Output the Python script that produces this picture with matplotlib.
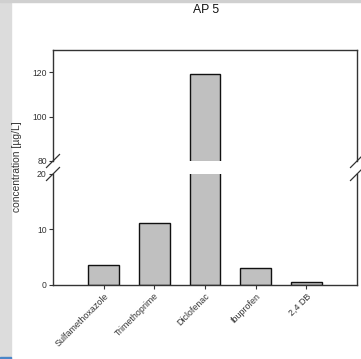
import numpy as np
import matplotlib
matplotlib.use("Agg")
import matplotlib.pyplot as plt
from matplotlib.patches import Rectangle

plt.rcParams['font.family'] = ['Liberation Sans', 'DejaVu Sans']

# data
compounds = ['Sulfamethoxazole', 'Trimethoprime', 'Diclofenac', 'Ibuprofen', '2,4 DB']
conc = [3.5, 11.1, 119.0, 3.1, 0.5]
upper_ticks = [80, 100, 120]
lower_ticks = [0, 10, 20]

W, H = 361, 359
fig = plt.figure(figsize=(W / 100, H / 100), dpi=100)

# window decorations around the picture
fig.patches.append(Rectangle((0, 0), 11 / W, 1, transform=fig.transFigure,
                             color='#dcdcdc', zorder=0))
fig.patches.append(Rectangle((0, 1 - 1.5 / H), 1, 1.5 / H, transform=fig.transFigure,
                             color='#d0d0d0', zorder=0))
fig.patches.append(Rectangle((0, 0), 11 / W, 2.5 / H, transform=fig.transFigure,
                             color='#4a86c8', zorder=1))

left, width = 53 / W, 304 / W
ax_top = fig.add_axes([left, 1 - 161 / H, width, 111 / H])
ax_bot = fig.add_axes([left, 1 - 284.7 / H, width, 110.7 / H])

x = np.arange(1, len(compounds) + 1)
spine_col = '#333333'
for ax in (ax_top, ax_bot):
    ax.bar(x, conc, width=0.6, color='#c0c0c0', edgecolor='#111111', linewidth=1.0)
    ax.set_xlim(0, 6)
    for s in ax.spines.values():
        s.set_color(spine_col)
        s.set_linewidth(1.0)
    ax.tick_params(axis='y', length=3, width=0.8, pad=1.5, labelsize=6.2,
                   colors=spine_col, labelcolor='#333333')

ax_top.set_ylim(80, 130)
ax_top.set_yticks(upper_ticks)
ax_top.spines['bottom'].set_visible(False)
ax_top.set_xticks([])

ax_bot.set_ylim(0, 20)
ax_bot.set_yticks(lower_ticks)
ax_bot.spines['top'].set_visible(False)
ax_bot.set_xticks(x)
ax_bot.set_xticklabels(compounds, rotation=45, ha='right', rotation_mode='anchor',
                       fontsize=6.4, color='#333333')
ax_bot.tick_params(axis='x', length=3, width=0.8, pad=2, colors=spine_col)

# break marks
for ax, yv in ((ax_top, 0), (ax_bot, 1)):
    for xv in (0, 1):
        px, py = ax.transAxes.transform((xv, yv))
        fx, fy = fig.transFigure.inverted().transform(
            [(px - 6.5, py - 6.5), (px + 6.5, py + 6.5)]).T
        fig.add_artist(plt.Line2D(fx, fy, color=spine_col, lw=0.9))

fig.text(206 / W, 1 - 10 / H, 'AP 5', ha='center', va='center',
         fontsize=8.8, color='#111111')

fig.text(17 / W, 1 - 167 / H, 'concentration [µg/L]', rotation=90,
         ha='center', va='center', fontsize=7.4, color='#333333')

fig.savefig('out.png', dpi=100)
